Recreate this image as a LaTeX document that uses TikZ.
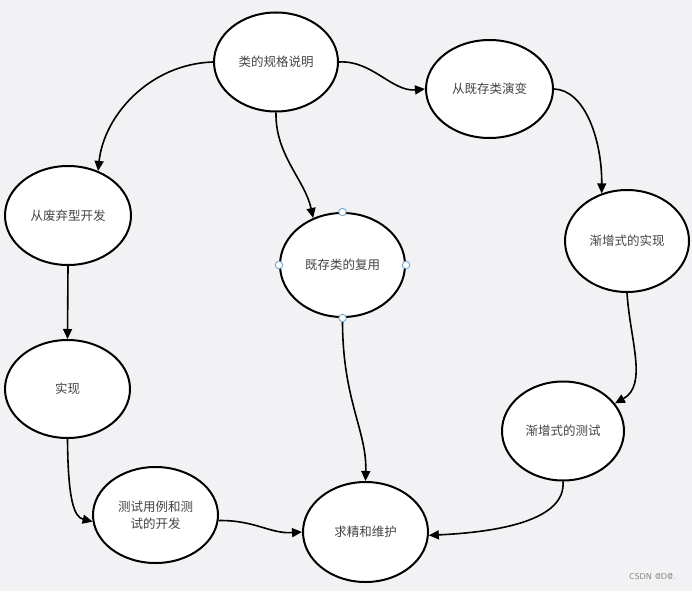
\documentclass[tikz,border=0pt]{standalone}
\usepackage{fontspec}
\newfontfamily\cjk{Noto Sans CJK SC}
\usetikzlibrary{shapes.geometric,arrows.meta}
\definecolor{bg}{HTML}{F2F2F4}
\definecolor{txt}{HTML}{444444}
\definecolor{handle}{HTML}{6FA8DC}
\tikzset{
  stage/.style={ellipse, draw=black, fill=white, line width=2pt,
    minimum width=124pt, minimum height=99pt, inner sep=0pt,
    font=\cjk\fontsize{12.5}{17}\selectfont, text=txt, align=center},
  flow/.style={line width=1.6pt, -{Triangle[length=10pt,width=9pt]}},
  grip/.style={circle, draw=handle, fill=white, line width=0.9pt, minimum size=7.5pt, inner sep=0pt}
}
\begin{document}
\begin{tikzpicture}[x=1pt,y=-1pt]
\fill[bg] (0,0) rectangle (692,591);
\useasboundingbox (0,0) rectangle (692,591);
\node[stage] (A) at (276,62) {类的规格说明};
\node[stage, minimum width=127pt, minimum height=98pt] (B) at (489.5,89) {从既存类演变};
\node[stage, minimum width=126pt] (C) at (68,215.5) {从废弃型开发};
\node[stage, minimum width=125pt, minimum height=104pt] (D) at (342.5,265) {既存类的复用};
\node[stage, minimum height=102pt] (E) at (627,241) {渐增式的实现};
\node[stage, minimum width=125pt, minimum height=98pt] (F) at (67.5,389) {实现};
\node[stage, minimum width=122pt] (G) at (563,431) {渐增式的测试};
\node[stage, minimum width=125pt, minimum height=96pt] (H) at (155.5,515) {测试用例和测\\试的开发};
\node[stage, minimum width=125pt, minimum height=100pt] (I) at (365.5,532) {求精和维护};

\draw[flow] (A.east) .. controls (372,60) and (392,92) .. (B.west);
\draw[flow] (A.west) .. controls (150,64) and (104,115) .. (C.56);
\draw[flow] (A.south) .. controls (275,155) and (305,180) .. (D.122);
\draw[flow] (B.east) .. controls (585,90) and (602,140) .. (E.118);
\draw[flow] (C.south) -- (F.north);
\draw[flow] (F.south) .. controls (68,500) and (74,517) .. (H.186);
\draw[flow] (D.south) .. controls (342,400) and (367,430) .. (I.north);
\draw[flow] (E.south) .. controls (630,340) and (648,385) .. (G.28);
\draw[flow] (G.south) .. controls (566,520) and (500,532) .. (I.-3);
\draw[flow] (H.-5) .. controls (255,520) and (270,534) .. (I.west);

\node[grip] (d1) at (D.north) {};
\node[grip] (d2) at (D.west) {};
\node[grip] (d3) at (D.east) {};
\node[grip] (d4) at (D.south) {};

\node[anchor=east, text=gray, font=\sffamily\fontsize{8.5}{10}\selectfont] (wm) at (679,577) {CSDN @D@.};
\end{tikzpicture}
\end{document}
